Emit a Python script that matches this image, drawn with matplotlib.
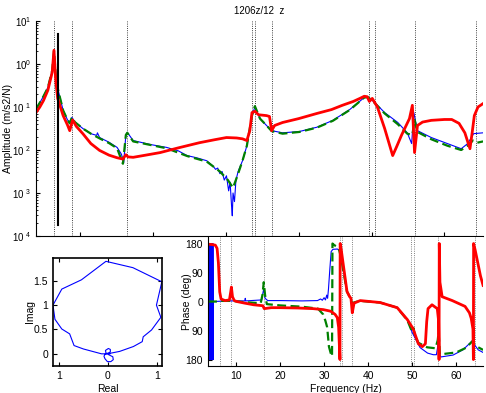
import matplotlib
matplotlib.use('Agg')
import matplotlib.pyplot as plt
from matplotlib.ticker import LogLocator, NullFormatter
import numpy as np

plt.rcParams['font.family'] = ['Liberation Sans', 'DejaVu Sans']
plt.rcParams['mathtext.fontset'] = 'custom'
plt.rcParams['mathtext.rm'] = 'Liberation Sans'
plt.rcParams['font.size'] = 7

# ---- amplitude (log10 of m/s2/N) ----
red_f = [3.97, 4.5, 5.0, 5.6, 6.2, 6.44, 6.7, 6.95, 7.7, 8.3, 8.6, 9.0, 9.5, 10.4, 11.5, 12.7,
         14.0, 15.1, 15.9, 16.3, 16.6, 17.3, 19.0, 21.0, 23.5, 26.4, 28.5, 30.1, 31.5, 32.3,
         32.9, 33.3, 33.6, 34.0, 34.5, 35.6, 36.0, 36.3, 36.7, 37.8, 40.0, 42.5, 44.5, 46.0,
         47.5, 48.4, 49.0, 49.4, 49.7, 50.1, 50.8, 51.8, 52.9, 53.5, 54.1, 55.2, 55.6, 55.9,
         56.3, 57.0, 58.2, 60.0, 61.0, 62.0, 62.8, 63.5, 63.8, 64.1, 64.6, 65.3]
red_log = [-1.13, -1.0, -0.85, -0.61, -0.19, 0.32, -0.42, -0.8, -1.2, -1.42, -1.55, -1.3, -1.45,
           -1.62, -1.85, -2.01, -2.12, -2.18, -2.21, -2.11, -2.16, -2.17, -2.12, -2.06, -1.95,
           -1.83, -1.76, -1.71, -1.72, -1.74, -1.78, -1.55, -1.13, -1.1, -1.18, -1.2, -1.22,
           -1.55, -1.43, -1.36, -1.27, -1.15, -1.06, -0.96, -0.87, -0.8, -0.75, -0.76, -0.87,
           -0.8, -1.0, -1.5, -2.13, -1.9, -1.66, -1.27, -0.96, -2.06, -1.43, -1.35, -1.31,
           -1.29, -1.29, -1.38, -1.6, -1.97, -1.6, -1.2, -1.0, -0.92]

blue_f = [3.97, 4.5, 5.0, 5.6, 6.2, 6.44, 6.7, 7.0, 7.7, 8.3, 8.6, 8.9, 9.3, 10.4, 11.5, 12.3,
          12.4, 12.7, 14.0, 15.1, 15.7, 16.0, 16.3, 16.5, 17.3, 19.6, 21.9, 23.5, 24.7, 26.0,
          27.4, 28.3, 28.6, 28.9, 29.2, 29.5, 29.8, 30.1, 30.4, 30.6, 30.8, 30.9, 31.0, 31.2,
          31.4, 31.7, 32.3, 32.9, 33.6, 34.0, 34.7, 35.6, 36.3, 37.8, 40.1, 42.5, 44.7, 47.0,
          49.0, 49.5, 50.4, 51.8, 53.6, 54.9, 55.5, 55.8, 56.3, 58.2, 60.4, 62.3, 63.2, 64.0,
          65.3]
blue_log = [-1.03, -0.9, -0.75, -0.55, -0.15, 0.3, -0.3, -0.6, -1.08, -1.3, -1.36, -1.24,
            -1.35, -1.5, -1.62, -1.66, -1.6, -1.71, -1.82, -1.94, -2.1, -2.3, -1.65, -1.59,
            -1.78, -1.87, -1.94, -2.02, -2.13, -2.18, -2.25, -2.38, -2.45, -2.42, -2.55, -2.5,
            -2.7, -2.6, -2.95, -2.75, -3.3, -3.53, -3.0, -3.2, -2.7, -2.5, -2.25, -1.9, -1.2,
            -1.0, -1.27, -1.43, -1.55, -1.6, -1.57, -1.47, -1.31, -1.06, -0.78, -0.77, -0.89,
            -1.13, -1.36, -1.6, -1.85, -1.13, -1.55, -1.71, -1.85, -1.97, -1.85, -1.62, -1.6]

green_f = [3.97, 4.5, 5.0, 5.6, 6.2, 6.44, 6.7, 7.0, 7.7, 8.3, 8.6, 8.9, 9.3, 10.4, 11.5, 12.7,
           14.0, 15.1, 15.9, 16.3, 16.5, 17.3, 19.6, 21.9, 24.7, 27.4, 29.2, 30.3, 31.0, 31.6,
           32.3, 32.9, 33.6, 34.0, 34.7, 35.6, 36.3, 37.8, 40.1, 42.5, 44.7, 47.0, 49.0, 49.5,
           50.4, 51.8, 53.6, 54.9, 55.6, 55.9, 56.3, 58.2, 60.4, 62.3, 63.2, 63.9, 64.5, 65.3]
green_log = [-1.05, -0.9, -0.75, -0.55, -0.15, 0.3, -0.3, -0.6, -1.08, -1.3, -1.38, -1.24,
             -1.35, -1.5, -1.62, -1.73, -1.84, -1.96, -2.32, -1.65, -1.6, -1.8, -1.88, -1.96,
             -2.14, -2.27, -2.5, -2.7, -2.88, -2.6, -2.25, -1.9, -1.2, -0.98, -1.27, -1.43,
             -1.56, -1.62, -1.58, -1.48, -1.32, -1.07, -0.78, -0.77, -0.9, -1.15, -1.4, -1.62,
             -1.65, -1.3, -1.58, -1.75, -1.9, -2.0, -1.9, -1.78, -1.83, -1.8]

# marker line and mode lines
marker_f = 6.95
marker_amp = [5.0, 1.8e-4]
mode_f = [6.4, 8.9, 16.4, 33.6, 34.0, 36.3, 49.7, 50.5, 55.9, 64.3]

# ---- phase (deg) ----
red_pf = [3.64, 4.5, 5.3, 5.7, 6.0, 6.3, 6.6, 7.5, 8.5, 8.8, 8.95, 9.2, 9.6, 10.2, 12.0, 14.0,
          16.1, 16.4, 18.0, 20.0, 24.0, 27.5, 29.8, 31.5, 32.5, 33.0, 33.3, 33.6, 33.65, 33.9,
          34.3, 35.2, 35.8, 36.1, 36.4, 36.8, 38.2, 42.7, 46.6, 48.9, 50.2, 51.4, 52.3, 53.0,
          53.3, 53.6, 54.5, 55.7, 56.0, 56.1, 56.15, 56.3, 56.8, 59.1, 62.0, 63.0, 63.4, 63.8,
          63.9, 63.95, 64.3, 64.9, 65.5, 66.1]
red_ph = [178, 177, 175, 165, 120, 30, 8, 3, 5, 30, 45, 15, 3, 0, -5, -10, -13, -22, -19, -19,
          -20, -22, -25, -30, -40, -50, -80, -180, 180, 160, 120, 31, 15, 10, -35, -5, 3, -3,
          -19, -56, -84, -131, -140, -131, -62, -22, -10, -22, -60, -180, 180, 60, 15, 3, -15,
          -35, -52, -85, -180, 180, 160, 120, 80, 50]

# noisy band at the start, then the clean part
blue_pf = [3.65, 3.7, 3.75, 3.8, 3.85, 3.9, 3.95, 4.0, 4.05, 4.1, 4.15, 4.2, 4.25, 4.3, 4.35,
           4.4, 4.45, 4.5, 4.55, 4.6, 4.65, 4.7, 4.75, 4.8, 4.85, 8.0, 12.0, 12.1, 12.2, 15.8,
           16.3, 16.6, 17.2, 20.0, 25.0, 28.5, 29.2, 29.6, 30.0, 30.3, 30.6, 30.8, 31.0, 31.3,
           31.6, 32.0, 33.0, 33.4, 33.6, 34.0, 34.5, 35.2, 36.0, 36.3, 36.6, 38.0, 42.7, 46.6,
           48.9, 50.0, 51.8, 53.5, 54.8, 55.5, 55.8, 56.0, 56.2, 56.5, 59.3, 61.5, 63.2, 63.6,
           64.2, 65.0, 66.1]
blue_ph = [180, -180, 180, -180, 180, -180, 180, -180, 180, -180, 180, -180, 180, -180, 180,
           -180, 180, -180, 180, -180, 180, -180, 180, -180, 0, 2, 2, 10, 2, 5, 40, 10, 3, 3, 2,
           3, 8, 4, 12, 5, 20, 10, 40, 100, 155, 162, 163, 160, 160, 140, 90, 31, 10, -2, -6,
           2, -3, -18, -55, -96, -143, -160, -165, -165, -140, -95, -160, -172, -166, -150,
           -128, -122, -135, -150, -158]

green_pf = [3.64, 6.0, 6.4, 9.0, 12.0, 15.6, 16.0, 16.3, 16.6, 17.0, 20.0, 25.0, 28.6, 29.8,
            30.3, 30.7, 31.1, 31.5, 31.8, 31.9, 32.3, 33.0, 33.4, 33.8, 34.3, 35.2, 36.0, 36.3,
            37.0, 38.2, 42.7, 46.6, 48.9, 50.0, 50.3, 50.6, 51.4, 53.4, 55.3, 55.8, 56.0, 56.3,
            57.5, 60.0, 62.0, 63.2, 63.6, 64.3, 65.0, 66.1]
green_ph = [0, 0, 2, 2, -2, -5, 20, 60, 20, -8, -12, -16, -22, -40, -60, -80, -140, -160,
            -170, 180, 175, 170, 160, 140, 100, 31, 10, -5, -2, 2, -3, -19, -58, -95, -82, -105,
            -128, -142, -145, -120, -95, -165, -162, -158, -145, -130, -124, -135, -142, -150]

# ---- Nyquist ----
nyq_re = [0.04, 0.24, 0.52, 0.70, 0.72, 0.89, 1.08, 0.99, 1.10, 0.51, -0.04, -0.54, -0.94,
          -1.12, -1.08, -0.94, -0.78, -0.69, -0.50, -0.13, -0.02, 0.05, 0.05, 0.01, -0.05,
          -0.04, 0.02, 0.10, 0.11, 0.06, -0.01, -0.06, -0.08, -0.06, -0.01, 0.04]
nyq_im = [0.01, 0.05, 0.15, 0.25, 0.35, 0.49, 0.75, 1.00, 1.48, 1.77, 1.90, 1.52, 1.33, 1.00,
          0.71, 0.51, 0.41, 0.17, 0.10, 0.00, 0.00, 0.04, 0.09, 0.11, 0.07, 0.02, -0.02,
          -0.06, -0.12, -0.16, -0.16, -0.10, -0.05, -0.01, 0.01, 0.00]

lin = dict(color='k', ls=':', lw=0.6)

fig = plt.figure(figsize=(4.86, 3.93), dpi=100)

# top: amplitude
ax1 = fig.add_axes([0.074, 0.3995, 0.920, 0.547])
for f in mode_f:
    ax1.axvline(f, **lin)
ax1.semilogy(blue_f, np.power(10.0, blue_log), color='b', lw=0.8)
ax1.semilogy(green_f, np.power(10.0, green_log), color=(0, 0.5, 0), lw=1.6, ls=(0, (4, 2)))
ax1.semilogy(red_f, np.power(10.0, red_log), color='r', lw=2.0)
ax1.plot([marker_f, marker_f], marker_amp, color='k', lw=1.5)
ax1.set_xlim(3.97, 65.3)
ax1.set_ylim(1e-4, 1e1)
ax1.set_xticks([10, 20, 30, 40, 50, 60])
ax1.set_xticklabels([])
ax1.set_yticks([1e1, 1, 1e-1, 1e-2, 1e-3, 1e-4])
ax1.set_yticklabels([r'$\mathregular{10^{1}}$', r'$\mathregular{10^{0}}$',
                     r'$\mathregular{10^{\ 1}}$', r'$\mathregular{10^{\ 2}}$',
                     r'$\mathregular{10^{\ 3}}$', r'$\mathregular{10^{\ 4}}$'])
ax1.yaxis.set_minor_locator(LogLocator(base=10, subs=np.arange(2, 10), numticks=20))
ax1.yaxis.set_minor_formatter(NullFormatter())
ax1.tick_params(which='both', direction='in', labelsize=7)
ax1.tick_params(which='major', length=3)
ax1.tick_params(which='minor', length=1.5)
ax1.spines['top'].set_visible(False)
ax1.spines['right'].set_visible(False)
ax1.set_ylabel('Amplitude (m/s2/N)', fontsize=7.5)
ax1.yaxis.set_label_coords(-0.051, 0.5)
ax1.set_title('1206z/12  z', fontsize=7, pad=5)

# bottom left: Nyquist
ax2 = fig.add_axes([0.109, 0.0687, 0.224, 0.275])
ax2.plot(nyq_re, nyq_im, color='b', lw=0.8)
ax2.set_xlim(-1.12, 1.10)
ax2.set_ylim(-0.25, 1.97)
ax2.set_xticks([-1, 0, 1])
ax2.set_xticklabels(['1', '0', '1'])
ax2.set_yticks([0, 0.5, 1, 1.5])
ax2.set_yticklabels(['0', '0.5', '1', '1.5'])
ax2.tick_params(direction='in', length=3, labelsize=7.5, top=True, right=True)
for s in ax2.spines.values():
    s.set_linewidth(1.2)
ax2.set_xlabel('Real', fontsize=7.5, labelpad=2)
ax2.set_ylabel('Imag', fontsize=7.5)
ax2.yaxis.set_label_coords(-0.165, 0.5)

# bottom right: phase
ax3 = fig.add_axes([0.428, 0.0687, 0.566, 0.328])
for f in mode_f:
    ax3.axvline(f, color='0.35', ls=':', lw=0.6)
ax3.plot(blue_pf, blue_ph, color='b', lw=0.8)
ax3.plot(green_pf, green_ph, color=(0, 0.5, 0), lw=1.6, ls=(0, (4, 2)))
ax3.plot(red_pf, red_ph, color='r', lw=2.0)
ax3.set_xlim(3.64, 66.1)
ax3.set_ylim(-200, 200)
ax3.set_xticks([10, 20, 30, 40, 50, 60])
ax3.set_yticks([180, 90, 0, -90, -180])
ax3.set_yticklabels(['180', '90', '0', '90', '180'])
ax3.tick_params(direction='in', length=3, labelsize=7.5)
ax3.spines['top'].set_visible(False)
ax3.spines['right'].set_visible(False)
ax3.set_xlabel('Frequency (Hz)', fontsize=7.5, labelpad=2)
ax3.set_ylabel('Phase (deg)', fontsize=7.5)
ax3.yaxis.set_label_coords(-0.058, 0.5)

fig.savefig('out.png', dpi=100)
